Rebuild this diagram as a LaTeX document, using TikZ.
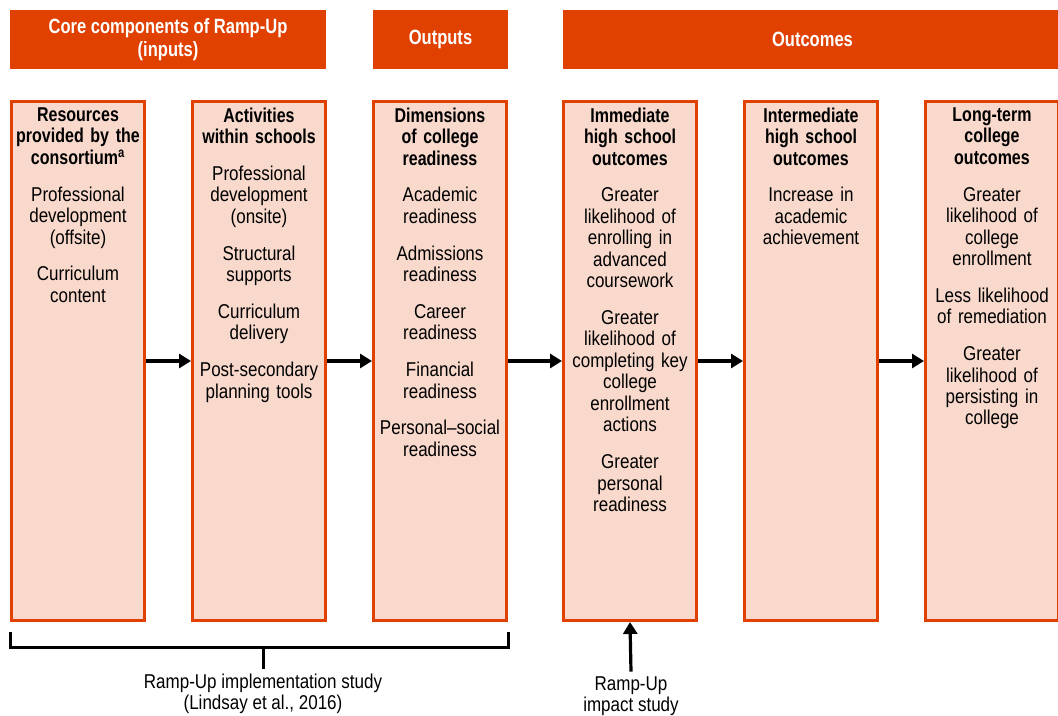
\documentclass[tikz,border=0pt]{standalone}
\usepackage{fontspec}
\setmainfont[FakeStretch=0.85, BoldFeatures={FakeStretch=0.8}]{Liberation Sans}
\usepackage{xcolor}
\usetikzlibrary{positioning, arrows.meta}

\definecolor{rampOrange}{HTML}{E04000}
\definecolor{rampPeach}{HTML}{F8D9CC}
\newcommand{\itemgap}{\\[11.5pt]}

\begin{document}
\begin{tikzpicture}[
        x=0.75pt, y=-0.75pt,
        every node/.style={font=\fontsize{15}{16.1}\selectfont},
        headbar/.style={rectangle, fill=rampOrange, text=white, font=\fontsize{15.5}{17}\selectfont\bfseries, align=center, minimum height=44.25pt, inner sep=0pt},
        colbox/.style={rectangle, draw=rampOrange, line width=2.25pt, fill=rampPeach, minimum width=99.75pt, minimum height=389.25pt, inner sep=0pt},
        coltext/.style={align=center, text width=100pt, inner sep=0pt},
        arrow/.style={line width=2.4pt, -{Triangle[length=9pt, width=10.5pt]}},
        bracket/.style={line width=2.25pt}
    ]
    \useasboundingbox (0,0) rectangle (1058,715);

    % header bars
    \node [headbar, minimum width=237pt] (inputs) at (168,39.5) {Core components of Ramp-Up\\(inputs)};
    \node [headbar, minimum width=101.25pt] (outputs) at (440.5,39.5) {Outputs};
    \node [headbar, minimum width=374.25pt] (outcomes) at (812.5,39.5) {Outcomes};

    % columns
    \node [colbox] (res) at (78,361) {};
    \node [colbox, right=33.75pt of res] (act) {};
    \node [colbox, right=33.75pt of act] (dim) {};
    \node [colbox, right=40.5pt of dim] (imm) {};
    \node [colbox, right=33.75pt of imm] (inter) {};
    \node [colbox, right=33.75pt of inter] (long) {};

    \node [coltext, below=5.5pt of res.north] (resT) {{\bfseries Resources\\provided by the\\consortium\textsuperscript{a}}\itemgap
        Professional\\development\\(offsite)\itemgap
        Curriculum\\content};
    \node [coltext, below=5.5pt of act.north] (actT) {{\bfseries Activities\\within schools}\itemgap
        Professional\\development\\(onsite)\itemgap
        Structural\\supports\itemgap
        Curriculum\\delivery\itemgap
        Post-secondary\\planning tools};
    \node [coltext, below=5.5pt of dim.north] (dimT) {{\bfseries Dimensions\\of college\\readiness}\itemgap
        Academic\\readiness\itemgap
        Admissions\\readiness\itemgap
        Career\\readiness\itemgap
        Financial\\readiness\itemgap
        Personal--social\\readiness};
    \node [coltext, below=5.5pt of imm.north] (immT) {{\bfseries Immediate\\high school\\outcomes}\itemgap
        Greater\\likelihood of\\enrolling in\\advanced\\coursework\itemgap
        Greater\\likelihood of\\completing key\\college\\enrollment\\actions\itemgap
        Greater\\personal\\readiness};
    \node [coltext, below=5.5pt of inter.north] (interT) {{\bfseries Intermediate\\high school\\outcomes}\itemgap
        Increase in\\academic\\achievement};
    \node [coltext, below=5.5pt of long.north] (longT) {{\bfseries Long-term\\college\\outcomes}\itemgap
        Greater\\likelihood of\\college\\enrollment\itemgap
        Less likelihood\\of remediation\itemgap
        Greater\\likelihood of\\persisting in\\college};

    \draw [arrow] (res) -- (act);
    \draw [arrow] (act) -- (dim);
    \draw [arrow] (dim) -- (imm);
    \draw [arrow] (imm) -- (inter);
    \draw [arrow] (inter) -- (long);

    % studies
    \node [align=center] (implStudy) at (263,694) {Ramp-Up implementation study\\(Lindsay et al., 2016)};
    \coordinate (implLeft) at ([yshift=-7.5pt]res.south west);
    \coordinate (implRight) at ([yshift=-7.5pt]dim.south east);
    \coordinate (implMid) at (263,647);
    \draw [bracket] (implLeft) |- (implMid) -| (implRight);
    \draw [bracket] (implMid) -- (implStudy.north);

    \node [align=center] (impactStudy) at (631,696) {Ramp-Up\\impact study};
    \draw [arrow] (impactStudy.north) -- (imm.south);

\end{tikzpicture}
\end{document}
